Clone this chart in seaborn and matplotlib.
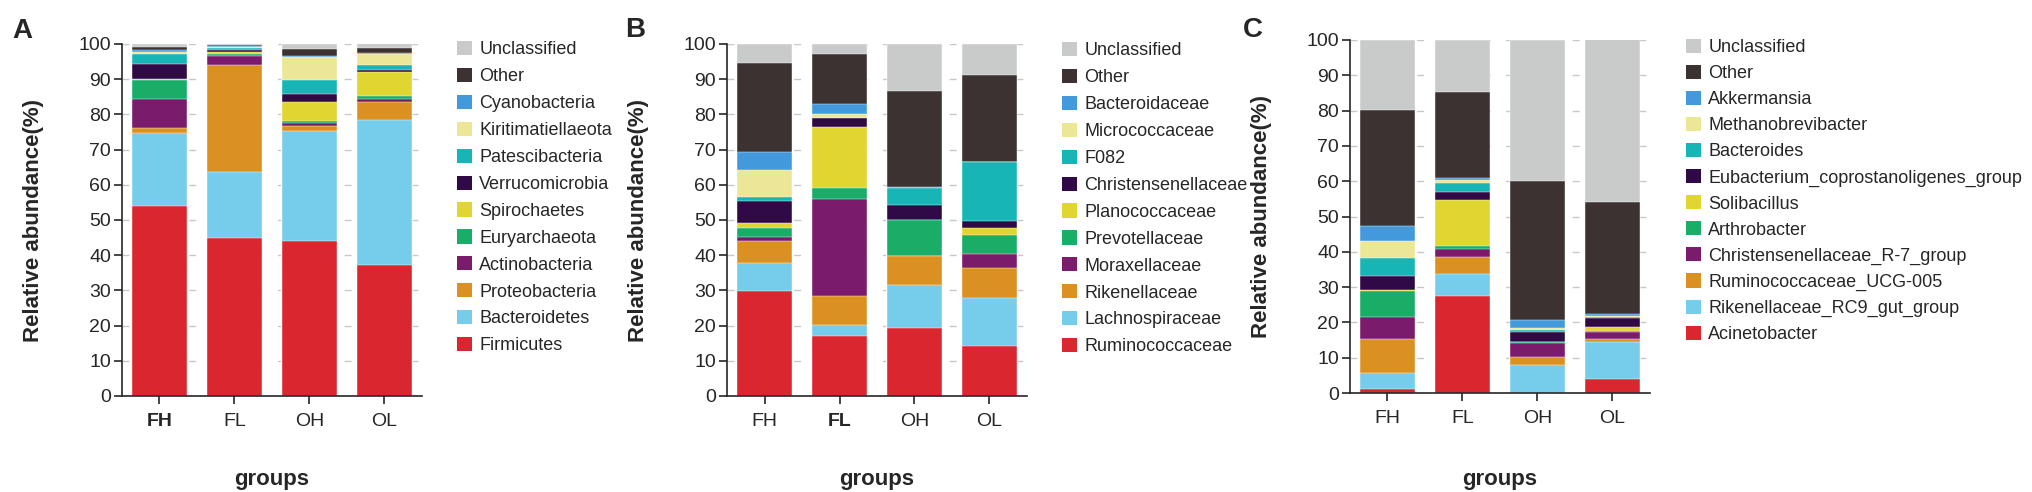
import numpy as np
import pandas as pd
import matplotlib
matplotlib.use("Agg")
import matplotlib.pyplot as plt
from matplotlib.patches import Patch
import seaborn as sns

sns.set_style("ticks")
plt.rcParams['font.family'] = ['Liberation Sans', 'DejaVu Sans']

groups = ["FH", "FL", "OH", "OL"]

# panel A, phylum level (bottom of the stack first)
phyla = ["Firmicutes", "Bacteroidetes", "Proteobacteria", "Actinobacteria",
         "Euryarchaeota", "Spirochaetes", "Verrucomicrobia", "Patescibacteria",
         "Kiritimatiellaeota", "Cyanobacteria", "Other", "Unclassified"]
firmicutes = [54.0, 44.8, 44.1, 37.2]
bacteroidetes = [20.6, 18.9, 31.3, 41.2]
proteobacteria = [1.6, 30.3, 1.2, 5.2]
actinobacteria = [8.1, 2.6, 0.9, 0.8]
euryarchaeota = [5.5, 0.5, 0.6, 0.8]
spirochaetes = [0.3, 0.6, 5.5, 6.9]
verrucomicrobia = [4.2, 0.5, 2.3, 0.6]
patescibacteria = [3.0, 0.8, 3.9, 1.3]
kiritimatiellaeota = [0.4, 0.1, 6.5, 3.2]
cyanobacteria = [0.6, 0.4, 0.3, 0.2]
other_a = [0.9, 0.2, 1.9, 1.4]
unclassified_a = [0.8, 0.5, 1.6, 1.4]

# panel B, family level
families = ["Ruminococcaceae", "Lachnospiraceae", "Rikenellaceae", "Moraxellaceae",
            "Prevotellaceae", "Planococcaceae", "Christensenellaceae", "F082",
            "Micrococcaceae", "Bacteroidaceae", "Other", "Unclassified"]
ruminococcaceae = [29.8, 17.0, 19.4, 14.2]
lachnospiraceae = [7.9, 3.2, 12.1, 13.6]
rikenellaceae = [6.3, 8.2, 8.3, 8.5]
moraxellaceae = [1.3, 27.6, 0.0, 3.9]
prevotellaceae = [2.5, 3.0, 10.2, 5.5]
planococcaceae = [1.4, 17.3, 0.0, 1.9]
christensenellaceae = [6.3, 2.6, 4.3, 2.1]
f082 = [1.1, 0.2, 4.7, 16.9]
micrococcaceae = [7.6, 0.9, 0.0, 0.0]
bacteroidaceae = [5.2, 2.9, 0.3, 0.0]
other_b = [25.1, 14.4, 27.3, 24.6]
unclassified_b = [5.5, 2.7, 13.3, 8.8]

# panel C, genus level
genera = ["Acinetobacter", "Rikenellaceae_RC9_gut_group", "Ruminococcaceae_UCG-005",
          "Christensenellaceae_R-7_group", "Arthrobacter", "Solibacillus",
          "Eubacterium_coprostanoligenes_group", "Bacteroides", "Methanobrevibacter",
          "Akkermansia", "Other", "Unclassified"]
acinetobacter = [1.0, 27.5, 0.0, 4.1]
rikenellaceae_rc9 = [4.7, 6.1, 8.0, 10.3]
ruminococcaceae_ucg005 = [9.6, 5.0, 2.1, 1.0]
christensenellaceae_r7 = [6.1, 2.2, 4.1, 1.9]
arthrobacter = [7.5, 0.9, 0.2, 0.2]
solibacillus = [0.2, 13.0, 0.0, 1.1]
eubacterium = [4.0, 2.1, 3.0, 2.6]
bacteroides = [5.2, 2.8, 0.4, 0.3]
methanobrevibacter = [4.9, 0.6, 0.7, 0.2]
akkermansia = [4.1, 0.6, 2.2, 0.7]
other_c = [33.0, 24.6, 39.4, 31.6]
unclassified_c = [19.8, 14.6, 39.8, 46.2]

colors = ["#d9262f", "#76cdeb", "#db9121", "#7b1b6b", "#19ad67", "#e0d531",
          "#2f0a47", "#17b5b6", "#ece796", "#4299dc", "#3b3231", "#c9caca"]

W, H = 2033, 492
fig = plt.figure(figsize=(W / 100, H / 100), dpi=100)


def draw_panel(box, names, series, letter, letter_xy, leg_xy, leg_space, bold_tick=None):
    left, top, right, bottom = box
    ax = fig.add_axes([left / W, 1 - bottom / H, (right - left) / W, (bottom - top) / H])
    ax.set_axisbelow(True)
    df = pd.DataFrame(np.array(series).T, columns=names)
    df.insert(0, "group", groups)
    cum = df[names].cumsum(axis=1)
    # draw totals first, smaller cumulative sums over them
    for i in range(len(names) - 1, -1, -1):
        sns.barplot(x=df["group"], y=cum[names[i]], color=colors[i], saturation=1,
                    width=0.74, edgecolor="white", linewidth=0.3, ax=ax, errorbar=None)
    ax.set_ylim(0, 100)
    ax.set_xlim(-0.5, 3.5)
    ax.set_yticks(range(0, 101, 10))
    ax.yaxis.grid(True, linestyle=(0, (5, 11)), color="#c8c8c8", linewidth=1.0)
    sns.despine(ax=ax)
    for s in ["left", "bottom"]:
        ax.spines[s].set_linewidth(1.2)
    ax.tick_params(axis="y", length=6, width=1.2, pad=2, labelsize=14)
    ax.tick_params(axis="x", length=6, width=1.2, pad=6, labelsize=14)
    if bold_tick is not None:
        ax.get_xticklabels()[bold_tick].set_fontweight("bold")
    ax.set_ylabel("Relative abundance(%)", fontsize=16, fontweight="bold", va="center")
    ax.set_xlabel("groups", fontsize=16, fontweight="bold", va="center")
    ax.yaxis.set_label_coords(-88.5 / (right - left), 0.5)
    ax.xaxis.set_label_coords(0.5, -(480 - bottom) / (bottom - top))
    fig.text(letter_xy[0] / W, 1 - letter_xy[1] / H, letter, fontsize=20,
             fontweight="bold", ha="center", va="center")
    handles = [Patch(facecolor=colors[i], edgecolor="none") for i in range(len(names))][::-1]
    fig.legend(handles, names[::-1], loc="upper left",
               bbox_to_anchor=(leg_xy[0] / W, 1 - leg_xy[1] / H),
               frameon=False, fontsize=13, handlelength=0.83, handleheight=0.83,
               handletextpad=0.4, labelspacing=leg_space, borderpad=0, borderaxespad=0)
    return ax


draw_panel((122, 44, 422, 396), phyla,
           [firmicutes, bacteroidetes, proteobacteria, actinobacteria, euryarchaeota,
            spirochaetes, verrucomicrobia, patescibacteria, kiritimatiellaeota,
            cyanobacteria, other_a, unclassified_a],
           "A", (22, 31), (457, 41), 0.53, bold_tick=0)
draw_panel((727, 44, 1027, 396), families,
           [ruminococcaceae, lachnospiraceae, rikenellaceae, moraxellaceae, prevotellaceae,
            planococcaceae, christensenellaceae, f082, micrococcaceae, bacteroidaceae,
            other_b, unclassified_b],
           "B", (635, 30), (1062, 42), 0.53, bold_tick=1)
draw_panel((1350, 40, 1650, 393), genera,
           [acinetobacter, rikenellaceae_rc9, ruminococcaceae_ucg005, christensenellaceae_r7,
            arthrobacter, solibacillus, eubacterium, bacteroides, methanobrevibacter,
            akkermansia, other_c, unclassified_c],
           "C", (1253, 30), (1686, 39), 0.48)

fig.savefig("out.png", dpi=100)
